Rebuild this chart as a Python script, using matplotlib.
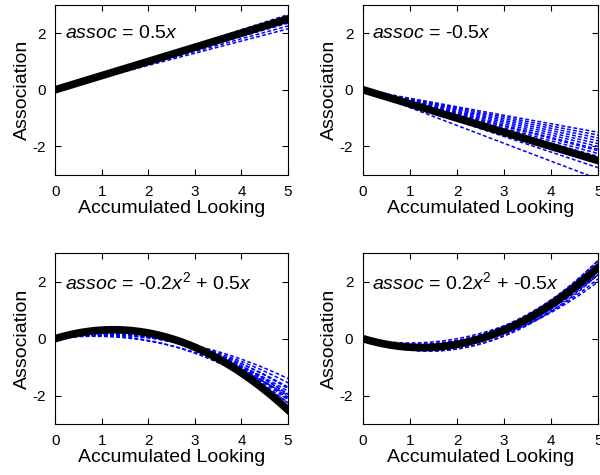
import numpy as np
import matplotlib
matplotlib.use("Agg")
import matplotlib.pyplot as plt

plt.rcParams['font.family'] = ['Liberation Sans', 'DejaVu Sans']
plt.rcParams['mathtext.fontset'] = 'custom'
plt.rcParams['mathtext.rm'] = 'Liberation Sans'
plt.rcParams['mathtext.it'] = 'Liberation Sans:italic'
plt.rcParams['axes.unicode_minus'] = False

### Data ###
# true generating curves: (a, b) for a*x^2 + b*x
true_coefs = [(0.0, 0.5), (0.0, -0.5), (-0.2, 0.5), (0.2, -0.5)]
labels = [r'$\it{assoc}$ = 0.5$\it{x}$',
          r'$\it{assoc}$ = -0.5$\it{x}$',
          r'$\it{assoc}$ = -0.2$\it{x}^2$ + 0.5$\it{x}$',
          r'$\it{assoc}$ = 0.2$\it{x}^2$ + -0.5$\it{x}$']

# fitted (blue dashed) curves, coefficients
fit_a1 = [0, 0, 0, 0, 0, 0, 0, 0, 0]
fit_b1 = [0.43, 0.45, 0.47, 0.48, 0.49, 0.50, 0.51, 0.52, 0.53]
fit_a2 = [0, 0, 0, 0, 0, 0, 0, 0, 0, 0, 0, 0, 0, 0]
fit_b2 = [-0.30, -0.32, -0.34, -0.36, -0.38, -0.40, -0.42, -0.43,
          -0.45, -0.47, -0.49, -0.52, -0.55, -0.63]
fit_a3 = [-0.10, -0.11, -0.12, -0.13, -0.14, -0.15, -0.16, -0.17, -0.18,
          -0.13, -0.15, -0.12, -0.14]
fit_b3 = [0.22, 0.24, 0.26, 0.28, 0.31, 0.34, 0.38, 0.42, 0.45,
          0.30, 0.36, 0.20, 0.25]
fit_a4 = [0.17, 0.18, 0.19, 0.20, 0.21, 0.22, 0.19, 0.21, 0.18, 0.22, 0.15, 0.16]
fit_b4 = [-0.45, -0.48, -0.42, -0.52, -0.60, -0.55, -0.50, -0.50, -0.40, -0.62,
          -0.30, -0.35]
fits = [(fit_a1, fit_b1), (fit_a2, fit_b2), (fit_a3, fit_b3), (fit_a4, fit_b4)]
##############

x = np.linspace(0, 5, 200)

fig = plt.figure(figsize=(6, 4.75), dpi=100)
positions = [[0.092, 0.632, 0.388, 0.358],
             [0.605, 0.632, 0.392, 0.358],
             [0.092, 0.107, 0.388, 0.360],
             [0.605, 0.107, 0.392, 0.360]]

for i in range(4):
    ax = fig.add_axes(positions[i])
    fa, fb = fits[i]
    for a, b in zip(fa, fb):
        ax.plot(x, a * x**2 + b * x, 'b--', lw=1.1, dashes=(2.5, 1.5))
    a, b = true_coefs[i]
    ax.plot(x, a * x**2 + b * x, 'k-', lw=5.5)

    ax.set_xlim(0, 5)
    ax.set_ylim(-3, 3)
    ax.set_xticks([0, 1, 2, 3, 4, 5])
    ax.set_yticks([-2, 0, 2])
    ax.tick_params(direction='in', top=True, right=True, labelsize=11, length=4, pad=7)
    ax.set_xlabel('Accumulated Looking', fontsize=14, labelpad=1)
    ax.set_ylabel('Association', fontsize=14, labelpad=1)
    ax.text(0.2, 2.0, labels[i], fontsize=14, va='center', ha='left')

fig.savefig('out.png', dpi=100)
